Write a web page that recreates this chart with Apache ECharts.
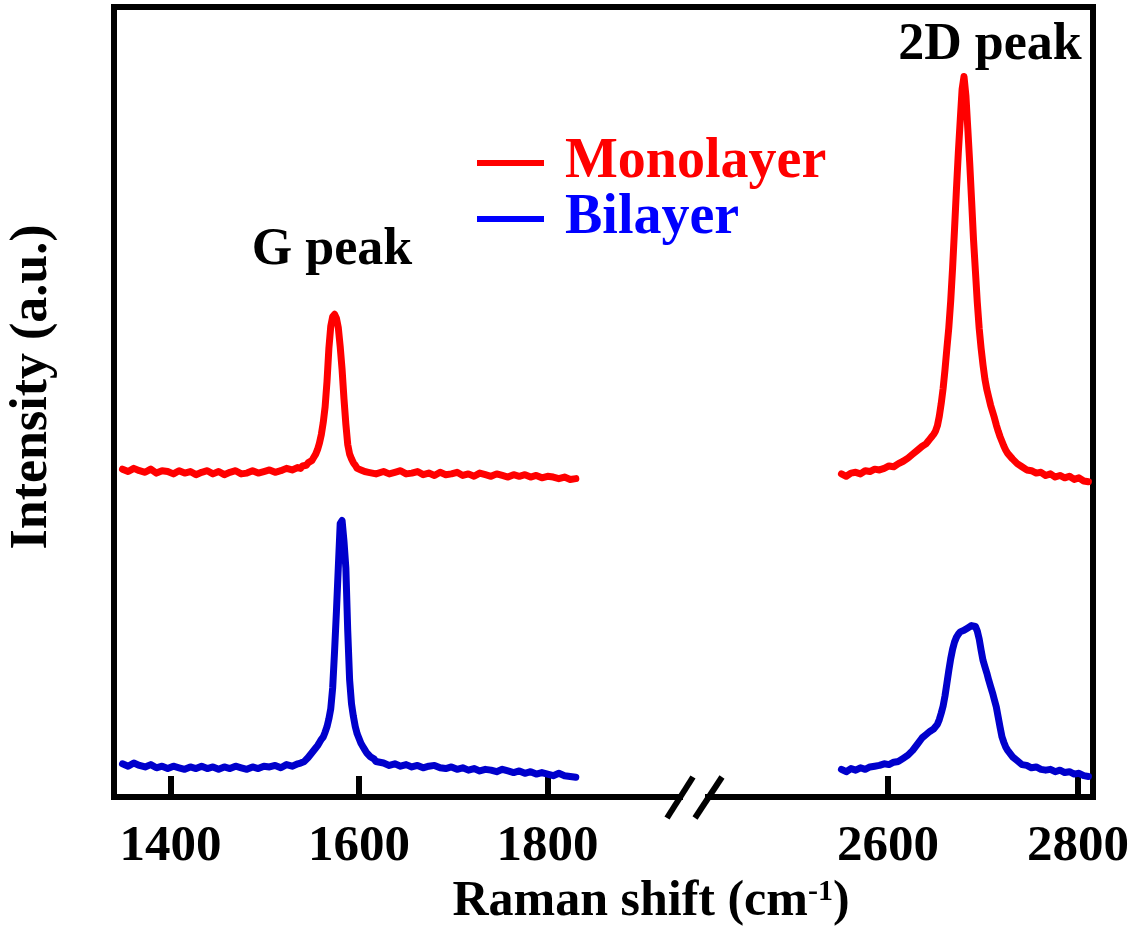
<!DOCTYPE html>
<html>
<head>
<meta charset="utf-8">
<script src="https://cdn.jsdelivr.net/npm/echarts@6/dist/echarts.min.js"></script>
<style>
  html, body { margin: 0; padding: 0; background: #ffffff; }
  #chart { width: 1140px; height: 930px; }
</style>
</head>
<body>
<div id="chart"></div>
<script>
// Raman shift (cm-1) sampled over the low range (G band)
const shiftLow = [
  1349,1355,1361,1367,1373,1379,1385,1391,1397,1403,1409,1415,1421,1427,1433,1439,
  1445,1451,1457,1463,1469,1475,1481,1487,1493,1499,1505,1511,1517,1523,1529,1535,
  1538,1540,1542,1544,1546,1548,1550,1552,1554,1556,1558,1560,1562,1564,1566,1568,
  1570,1572,1574,1576,1578,1580,1582,1584,1586,1588,1590,1592,1594,1596,1598,1600,
  1602,1604,1606,1608,1610,1612,1614,1616,1618,1620,
  1626,1632,1638,1644,1650,1656,1662,1668,1674,1680,1686,1692,1698,1704,1710,1716,
  1722,1728,1734,1740,1746,1752,1758,1764,1770,1776,1782,1788,1794,1800,1806,1812,
  1818,1824,1830
];
// Monolayer intensity (a.u., offset) over the low range
const monoLow = [
  41.5,41.2,41.6,41.3,41.1,41.5,41.0,41.3,41.2,40.9,41.3,41.0,41.2,40.8,41.1,41.3,
  40.9,41.2,40.8,41.1,41.3,40.9,41.0,41.3,41.0,41.2,41.4,41.1,41.3,41.6,41.4,41.7,
  41.6,41.9,41.7,42.0,42.3,42.2,42.6,43.0,43.4,44.0,44.8,45.9,47.4,49.4,52.6,56.8,
  59.6,60.8,61.1,60.6,59.4,57.0,54.1,50.4,47.2,44.6,43.4,42.8,42.3,42.0,41.6,41.8,
  41.4,41.5,41.2,41.4,41.1,41.3,41.0,41.2,40.9,41.1,
  41.2,40.9,41.1,41.3,40.9,41.0,41.2,40.8,41.0,40.7,41.1,40.8,40.9,41.1,40.7,40.9,
  40.6,41.0,40.8,40.6,40.9,40.7,40.5,40.8,40.6,40.8,40.5,40.7,40.4,40.6,40.5,40.3,
  40.5,40.2,40.3
];
// Bilayer intensity (a.u.) over the low range
const biLow = [
  4.2,3.9,4.3,4.0,3.8,4.1,3.7,3.9,3.6,3.9,3.7,3.5,3.8,3.6,3.9,3.6,
  3.8,3.5,3.8,3.6,3.9,3.7,3.5,3.8,3.6,3.9,3.8,4.0,3.7,4.1,3.9,4.2,
  4.3,4.2,4.5,4.7,5.0,5.2,5.6,5.8,6.2,6.5,6.9,7.3,7.6,8.2,8.9,9.9,
  11.2,13.8,18.4,23.5,29.1,34.6,35.0,32.4,29.0,21.0,14.8,11.8,10.2,8.9,8.0,7.4,
  6.8,6.4,6.0,5.6,5.5,5.1,4.9,4.8,4.5,4.4,
  4.3,4.0,4.2,3.9,4.1,3.8,4.0,3.7,3.9,4.0,3.7,3.6,3.8,3.5,3.7,3.4,
  3.6,3.3,3.5,3.4,3.2,3.5,3.3,3.1,3.3,3.0,3.2,2.9,3.1,2.9,2.7,3.0,
  2.7,2.6,2.5
];

// Raman shift (cm-1) sampled over the high range (2D band)
const shiftHigh = [
  2551,2556,2561,2566,2571,2576,2581,2586,2591,2596,2601,2606,2611,2616,2621,2626,
  2631,2636,
  2640,2642,2644,2646,2648,2650,2652,2654,2656,2658,2660,2662,2664,2666,2668,2670,
  2672,2674,2676,2678,2680,2682,2684,2686,2688,2690,2692,2694,2696,2698,2700,2702,
  2704,2706,2708,2710,2712,2714,2716,2718,2720,2722,2724,2726,
  2731,2736,2741,2746,2751,2756,2761,2766,2771,2776,2781,2786,2791,2796,2801,2806,
  2811
];
const monoHigh = [
  40.9,40.6,41.0,41.1,40.9,41.3,41.2,41.5,41.4,41.6,41.9,41.8,42.2,42.5,42.9,43.4,
  43.9,44.4,
  44.7,45.0,45.3,45.6,45.9,46.3,47.0,48.2,49.8,51.7,54.1,56.8,59.4,62.8,67.0,71.8,
  76.8,81.5,85.6,89.6,91.2,88.8,84.6,80.3,75.5,70.6,66.6,62.6,59.3,56.8,54.7,52.9,
  51.6,50.6,49.6,48.8,48.0,47.1,46.3,45.6,45.0,44.4,43.9,43.5,
  42.8,42.2,41.8,41.4,41.3,41.0,41.1,40.7,40.9,40.5,40.7,40.4,40.6,40.2,40.4,40.0,
  39.9
];
const biHigh = [
  3.5,3.2,3.6,3.4,3.7,3.5,3.8,3.9,4.0,4.2,4.1,4.4,4.5,4.9,5.3,5.9,
  6.7,7.5,
  7.9,8.1,8.3,8.4,8.6,8.8,9.2,9.8,10.6,11.5,12.8,14.4,16.0,17.5,18.7,19.6,
  20.2,20.6,20.9,21.0,21.1,21.3,21.4,21.5,21.7,21.8,21.6,21.0,20.0,18.6,17.3,16.5,
  15.7,14.8,14.0,13.2,12.3,11.4,10.1,8.8,7.6,6.9,6.3,5.9,
  5.1,4.6,4.1,4.0,3.7,3.8,3.5,3.4,3.5,3.2,3.4,3.1,3.2,2.9,3.0,2.7,
  2.6
];

const ticksLow = [1400, 1600, 1800];
const ticksHigh = [2600, 2800];
const seriesNames = ['Monolayer', 'Bilayer'];
const peakNames = ['G peak', '2D peak'];

const FONT = '"Liberation Serif", "Times New Roman", serif';
const RED = '#ff0000';
const BLUE_LINE = '#0000cc';
const BLUE_TEXT = '#0000ff';

// plot frame geometry (px)
const frameLeft = 114, frameRight = 1093, frameTop = 7, frameBottom = 797;
const breakLeft = 680, breakRight = 708;

function pairs(xs, ys) { return xs.map((x, i) => [x, ys[i]]); }

const chart = echarts.init(document.getElementById('chart'), null, { renderer: 'canvas' });

const bottomAxis = (grid, min, max, ticks) => ({
  type: 'value', gridIndex: grid, position: 'bottom', min: min, max: max,
  axisLine: { show: true, onZero: false, lineStyle: { color: '#000', width: 6, cap: 'square' } },
  axisTick: { show: true, inside: true, length: 21, customValues: ticks,
              lineStyle: { color: '#000', width: 6 } },
  axisLabel: { show: true, customValues: ticks, margin: 24, color: '#000',
               fontFamily: FONT, fontWeight: 'bold', fontSize: 51,
               formatter: (v) => String(Math.round(v)) },
  splitLine: { show: false }
});

const sideAxis = (grid, pos) => ({
  type: 'value', gridIndex: grid, position: pos, min: 0, max: 100,
  axisLine: { show: true, onZero: false, lineStyle: { color: '#000', width: 6, cap: 'square' } },
  axisTick: { show: false }, axisLabel: { show: false }, splitLine: { show: false }
});

const lineSeries = (name, xIdx, xs, ys, color) => ({
  name: name, type: 'line', xAxisIndex: xIdx, yAxisIndex: xIdx,
  data: pairs(xs, ys), showSymbol: false, symbol: 'none',
  lineStyle: { color: color, width: 7, join: 'round', cap: 'round' },
  itemStyle: { color: color },
  smooth: false, clip: false, z: 3
});

chart.setOption({
  animation: false,
  backgroundColor: '#ffffff',
  grid: [
    { left: frameLeft, top: frameTop, width: breakLeft - frameLeft, height: frameBottom - frameTop },
    { left: breakRight, top: frameTop, width: frameRight - breakRight, height: frameBottom - frameTop },
    { left: frameLeft, top: frameTop, width: frameRight - frameLeft, height: frameBottom - frameTop }
  ],
  xAxis: [
    bottomAxis(0, 1340, 1340 + (breakLeft - frameLeft) / 0.9425, ticksLow),
    bottomAxis(1, 2600 - (888 - breakRight) / 0.95, 2600 - (888 - breakRight) / 0.95 + (frameRight - breakRight) / 0.95, ticksHigh),
    { type: 'value', gridIndex: 2, position: 'top', min: 0, max: 1,
      axisLine: { show: true, onZero: false, lineStyle: { color: '#000', width: 6, cap: 'square' } },
      axisTick: { show: false }, axisLabel: { show: false }, splitLine: { show: false } }
  ],
  yAxis: [
    sideAxis(0, 'left'),
    sideAxis(1, 'right'),
    { type: 'value', gridIndex: 2, show: false, min: 0, max: 100 }
  ],
  legend: {
    orient: 'vertical', left: 472, top: 130, itemWidth: 67, itemHeight: 6, itemGap: 0,
    icon: 'rect', selectedMode: false,
    textStyle: { fontFamily: FONT, fontWeight: 'bold', fontSize: 56, lineHeight: 55,
                 padding: [0, 0, 0, 16] },
    data: [
      { name: seriesNames[0], itemStyle: { color: RED }, textStyle: { color: RED } },
      { name: seriesNames[1], itemStyle: { color: BLUE_TEXT }, textStyle: { color: BLUE_TEXT } }
    ]
  },
  series: [
    lineSeries(seriesNames[0], 0, shiftLow, monoLow, RED),
    lineSeries(seriesNames[1], 0, shiftLow, biLow, BLUE_LINE),
    lineSeries(seriesNames[0], 1, shiftHigh, monoHigh, RED),
    lineSeries(seriesNames[1], 1, shiftHigh, biHigh, BLUE_LINE)
  ],
  graphic: [
    // axis break marks
    { type: 'line', shape: { x1: 667, y1: 818, x2: 693, y2: 777 }, style: { stroke: '#000', lineWidth: 6 }, z: 10 },
    { type: 'line', shape: { x1: 695, y1: 818, x2: 722, y2: 777 }, style: { stroke: '#000', lineWidth: 6 }, z: 10 },
    // peak annotations
    { type: 'text', x: 332, y: 251, z: 10,
      style: { text: peakNames[0], font: 'bold 52px ' + FONT, fill: '#000', align: 'center', verticalAlign: 'middle' } },
    { type: 'text', x: 990, y: 46, z: 10,
      style: { text: peakNames[1], font: 'bold 52px ' + FONT, fill: '#000', align: 'center', verticalAlign: 'middle' } },
    // axis titles
    { type: 'text', x: 651, y: 902, z: 10,
      style: { text: 'Raman shift (cm{sup|-1})', font: 'bold 50px ' + FONT, fill: '#000',
               align: 'center', verticalAlign: 'middle',
               rich: { sup: { font: 'bold 30px ' + FONT, fill: '#000', verticalAlign: 'top' } } } },
    { type: 'text', x: 33, y: 387, rotation: Math.PI / 2, z: 10,
      style: { text: 'Intensity (a.u.)', font: 'bold 52px ' + FONT, fill: '#000',
               align: 'center', verticalAlign: 'middle' } }
  ]
});
</script>
</body>
</html>
